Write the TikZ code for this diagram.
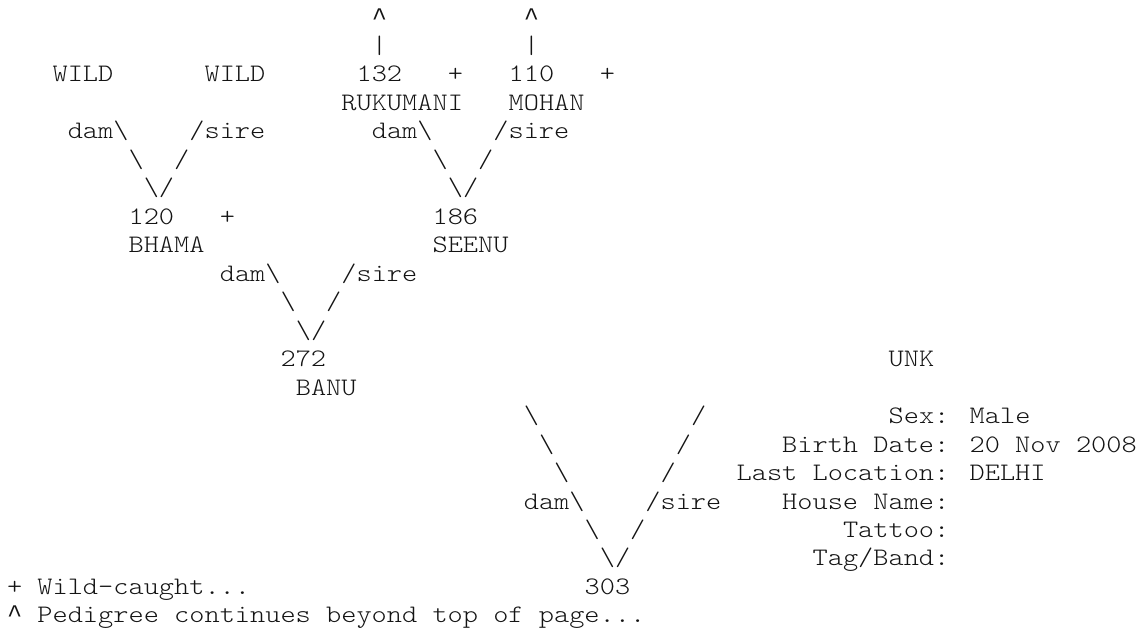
\documentclass[tikz,border=0pt]{standalone}
\usepackage{fontspec}
\usepackage{tikz}
\newfontfamily\pedfont[FakeStretch=1.15]{lmmonolt10-regular.otf}
\newfontfamily\caretfont{Liberation Mono}
\newcommand{\up}{{\caretfont\fontsize{25.33pt}{28.47pt}\selectfont\char"5E}}
\definecolor{pedInk}{RGB}{20,20,20}

\begin{document}
\begin{tikzpicture}[x=15.2pt,y=-28.47pt,
    ch/.style={inner sep=0pt,outer sep=0pt,anchor=base west,pedInk,
      font=\pedfont\fontsize{25.17pt}{28.47pt}\selectfont}]
  \useasboundingbox (-7pt,25pt) rectangle (1132pt,-610pt);
  % Avos (continua acima)
  \node[ch] (upR) at (24,0) {\up};
  \node[ch] (upM) at (34,0) {\up};
  \node[ch] (barR) at (24,1) {|};
  \node[ch] (barM) at (34,1) {|};
  \node[ch] (wildA) at (3,2) {WILD};
  \node[ch] (wildB) at (13,2) {WILD};
  \node[ch] (id132) at (23,2) {132};
  \node[ch] (plusA) at (29,2) {+};
  \node[ch] (id110) at (33,2) {110};
  \node[ch] (plusB) at (39,2) {+};
  \node[ch] (rukumani) at (22,3) {RUKUMANI};
  \node[ch] (mohan) at (33,3) {MOHAN};
  \node[ch] (damA) at (4,4) {dam\textbackslash};
  \node[ch] (sireA) at (12,4) {/sire};
  \node[ch] (damB) at (24,4) {dam\textbackslash};
  \node[ch] (sireB) at (32,4) {/sire};
  \node[ch] (bsA) at (8,5) {\textbackslash};
  \node[ch] (slA) at (11,5) {/};
  \node[ch] (bsB) at (28,5) {\textbackslash};
  \node[ch] (slB) at (31,5) {/};
  \node[ch] (vA) at (9,6) {\textbackslash/};
  \node[ch] (vB) at (29,6) {\textbackslash/};
  % Pais
  \node[ch] (id120) at (8,7) {120};
  \node[ch] (plusC) at (14,7) {+};
  \node[ch] (id186) at (28,7) {186};
  \node[ch] (bhama) at (8,8) {BHAMA};
  \node[ch] (seenu) at (28,8) {SEENU};
  \node[ch] (damC) at (14,9) {dam\textbackslash};
  \node[ch] (sireC) at (22,9) {/sire};
  \node[ch] (bsC) at (18,10) {\textbackslash};
  \node[ch] (slC) at (21,10) {/};
  \node[ch] (vC) at (19,11) {\textbackslash/};
  \node[ch] (id272) at (18,12) {272};
  \node[ch] (unk) at (58,12) {UNK};
  \node[ch] (banu) at (19,13) {BANU};
  % Animal 303
  \node[ch] (bsD1) at (34,14) {\textbackslash};
  \node[ch] (slD1) at (45,14) {/};
  \node[ch] (sex) at (58,14) {Sex: Male};
  \node[ch] (bsD2) at (35,15) {\textbackslash};
  \node[ch] (slD2) at (44,15) {/};
  \node[ch] (birth) at (51,15) {Birth Date: 20 Nov 2008};
  \node[ch] (bsD3) at (36,16) {\textbackslash};
  \node[ch] (slD3) at (43,16) {/};
  \node[ch] (loc) at (48,16) {Last Location: DELHI};
  \node[ch] (damD) at (34,17) {dam\textbackslash};
  \node[ch] (sireD) at (42,17) {/sire};
  \node[ch] (house) at (51,17) {House Name:};
  \node[ch] (bsD4) at (38,18) {\textbackslash};
  \node[ch] (slD4) at (41,18) {/};
  \node[ch] (tattoo) at (55,18) {Tattoo:};
  \node[ch] (vD) at (39,19) {\textbackslash/};
  \node[ch] (tag) at (53,19) {Tag/Band:};
  \node[ch] (id303) at (38,20) {303};
  % Legenda
  \node[ch] (keyWild) at (0,20) {+ Wild-caught...};
  \node[ch] (keyUp) at (0,21) {\up{} Pedigree continues beyond top of page...};
\end{tikzpicture}
\end{document}
